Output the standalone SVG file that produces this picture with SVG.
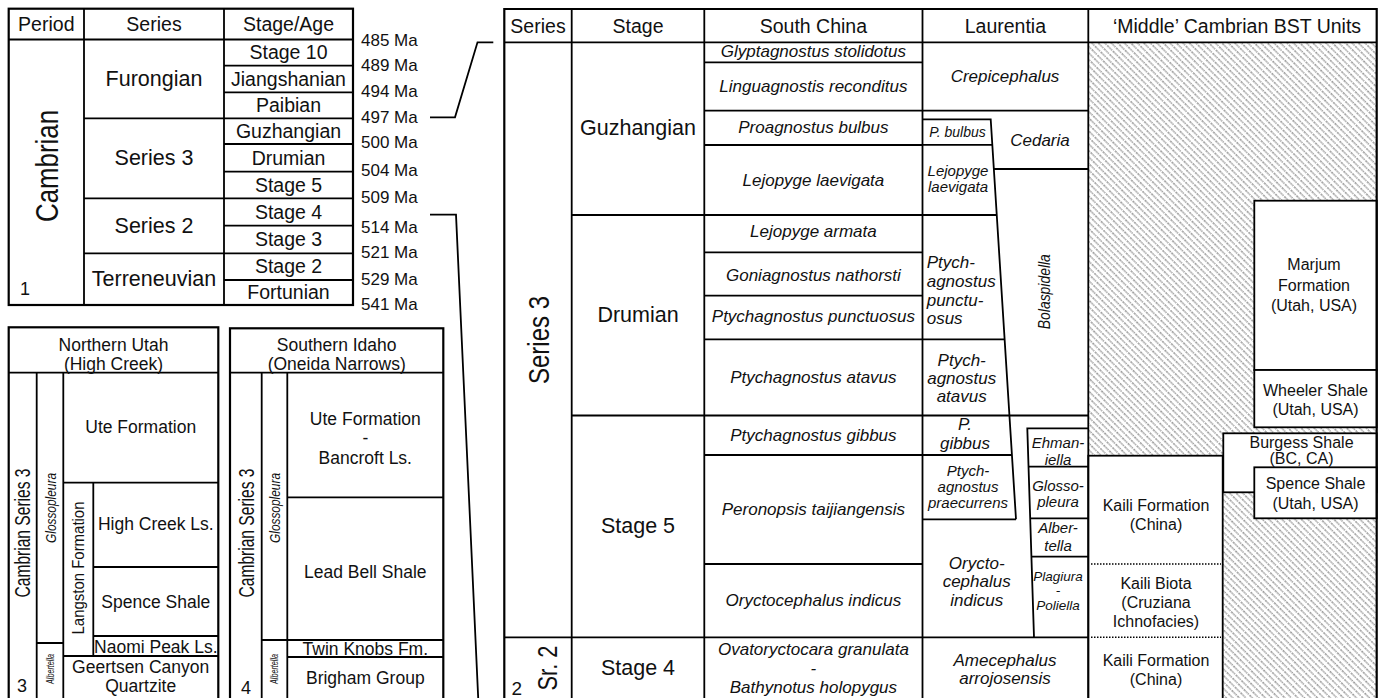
<svg xmlns="http://www.w3.org/2000/svg" width="1385" height="698" viewBox="0 0 1385 698">
<defs>
<pattern id="hatch" patternUnits="userSpaceOnUse" width="4.6" height="8" patternTransform="rotate(-45)">
<line x1="1" y1="0" x2="1" y2="8" stroke="#666" stroke-width="1" stroke-dasharray="1.4 0.9"/>
</pattern>
</defs>
<style>
.ln{stroke:#000;stroke-width:1.8;fill:none}
.ob{stroke:#000;stroke-width:2.2;fill:none}
.bx{stroke:#000;stroke-width:1.8;fill:#fff}
.dot{stroke:#000;stroke-width:1.5;stroke-dasharray:1.5 1.5;fill:none}
text{font-family:"Liberation Sans",Arial,sans-serif;fill:#111;text-anchor:middle;dominant-baseline:central}
.i{font-style:italic}
.h{font-size:19.5px}
.st{font-size:19.5px}
.se{font-size:21.5px}
.ma{font-size:17px;text-anchor:start}
.sc{font-size:17px;font-style:italic}
.la{font-size:17px;font-style:italic}
.bs{font-size:16px}
.lt{font-size:17.5px}
</style>
<rect width="1385" height="698" fill="#fff"/>

<!-- Top-left time scale -->
<g id="timescale">
<rect x="8.7" y="8.7" width="344.3" height="296.3" class="bx" style="stroke-width:2.2"/>
<path class="ln" d="M8.7 39.5H353 M84 8.7V305 M224 8.7V305 M84 118.3H353 M84 198.3H353 M84 253.3H353 M224 65.7H353 M224 92.3H353 M224 144H353 M224 171.7H353 M224 225.7H353 M224 280H353"/>
<text class="h" x="46.3" y="24">Period</text>
<text class="h" x="154" y="24">Series</text>
<text class="h" x="288.5" y="24">Stage/Age</text>
<text x="47" y="166" style="font-size:31px" transform="rotate(-90 47 166)" textLength="112" lengthAdjust="spacingAndGlyphs">Cambrian</text>
<text x="25" y="289" style="font-size:18px">1</text>
<text class="se" x="154" y="79">Furongian</text>
<text class="se" x="154" y="158.3">Series 3</text>
<text class="se" x="154" y="226">Series 2</text>
<text class="se" x="154" y="279.3">Terreneuvian</text>
<text class="st" x="288.5" y="52">Stage 10</text>
<text class="st" x="288.5" y="78.5">Jiangshanian</text>
<text class="st" x="288.5" y="105">Paibian</text>
<text class="st" x="288.5" y="131">Guzhangian</text>
<text class="st" x="288.5" y="157.5">Drumian</text>
<text class="st" x="288.5" y="184.5">Stage 5</text>
<text class="st" x="288.5" y="211.5">Stage 4</text>
<text class="st" x="288.5" y="239">Stage 3</text>
<text class="st" x="288.5" y="266">Stage 2</text>
<text class="st" x="288.5" y="292">Fortunian</text>
<text class="ma" x="361" y="40.3">485 Ma</text>
<text class="ma" x="361" y="65">489 Ma</text>
<text class="ma" x="361" y="91.7">494 Ma</text>
<text class="ma" x="361" y="117.3">497 Ma</text>
<text class="ma" x="361" y="142.7">500 Ma</text>
<text class="ma" x="361" y="170.3">504 Ma</text>
<text class="ma" x="361" y="197.3">509 Ma</text>
<text class="ma" x="361" y="227.7">514 Ma</text>
<text class="ma" x="361" y="252.7">521 Ma</text>
<text class="ma" x="361" y="279.3">529 Ma</text>
<text class="ma" x="361" y="304.3">541 Ma</text>
</g>

<!-- Northern Utah -->
<g id="northern-utah">
<rect x="8.7" y="327.3" width="209.6" height="380" class="bx" style="stroke-width:2.2"/>
<path class="ln" d="M8.7 372.7H218.3 M36.7 372.7V700 M63.3 372.7V700 M63.3 482.7H218.3 M93.3 482.7V656 M93.3 567H218.3 M93.3 636H218.3 M63.3 656H218.3 M36.7 643H63.3"/>
<text class="lt" x="113.5" y="345">Northern Utah</text>
<text class="lt" x="113.5" y="364">(High Creek)</text>
<text class="lt" x="140.7" y="426.5">Ute Formation</text>
<text class="lt" x="155.8" y="524">High Creek Ls.</text>
<text class="lt" x="155.8" y="601.5">Spence Shale</text>
<text class="lt" x="155.8" y="646.5">Naomi Peak Ls.</text>
<text class="lt" x="140.7" y="667">Geertsen Canyon</text>
<text class="lt" x="140.7" y="686">Quartzite</text>
<text x="22.5" y="533" style="font-size:22px" transform="rotate(-90 22.5 533)" textLength="129" lengthAdjust="spacingAndGlyphs">Cambrian Series 3</text>
<text class="i" x="50" y="508" style="font-size:15px" transform="rotate(-90 50 508)" textLength="70" lengthAdjust="spacingAndGlyphs">Glossopleura</text>
<text x="78.3" y="568" style="font-size:17px" transform="rotate(-90 78.3 568)" textLength="133" lengthAdjust="spacingAndGlyphs">Langston Formation</text>
<text class="i" x="50" y="669" style="font-size:10px" transform="rotate(-90 50 669)" textLength="30" lengthAdjust="spacingAndGlyphs">Albertella</text>
<text x="22" y="686" style="font-size:18px">3</text>
</g>

<!-- Southern Idaho -->
<g id="southern-idaho">
<rect x="230" y="328.3" width="213.3" height="380" class="bx" style="stroke-width:2.2"/>
<path class="ln" d="M230 372.7H443.3 M261.7 372.7V700 M287.3 372.7V700 M287.3 497.3H443.3 M261.7 640H443.3 M287.3 657H443.3"/>
<text class="lt" x="336.7" y="345">Southern Idaho</text>
<text class="lt" x="336.7" y="364">(Oneida Narrows)</text>
<text class="lt" x="365.3" y="419">Ute Formation</text>
<text class="lt" x="365.3" y="438">-</text>
<text class="lt" x="365.3" y="458">Bancroft Ls.</text>
<text class="lt" x="365.3" y="572">Lead Bell Shale</text>
<text class="lt" x="365.3" y="648.5">Twin Knobs Fm.</text>
<text class="lt" x="365.3" y="677.5">Brigham Group</text>
<text x="246.5" y="533" style="font-size:22px" transform="rotate(-90 246.5 533)" textLength="129" lengthAdjust="spacingAndGlyphs">Cambrian Series 3</text>
<text class="i" x="274.5" y="508" style="font-size:15px" transform="rotate(-90 274.5 508)" textLength="70" lengthAdjust="spacingAndGlyphs">Glossopleura</text>
<text class="i" x="274.5" y="669" style="font-size:10px" transform="rotate(-90 274.5 669)" textLength="30" lengthAdjust="spacingAndGlyphs">Albertella</text>
<text x="246" y="688" style="font-size:18px">4</text>
</g>

<!-- Connectors (zoom brackets) -->
<g id="connectors" class="ln">
<path d="M430 117.3H455L477.5 42.3H493.3"/>
<path d="M430 214.7H456L478.3 700"/>
</g>

<!-- BST units column -->
<g id="bst-units">
<rect x="1088.3" y="42.3" width="288.4" height="660" fill="url(#hatch)"/>
<rect class="bx" x="1254.3" y="200.7" width="122.4" height="169.3"/>
<rect class="bx" x="1254.3" y="370" width="122.4" height="57.3"/>
<rect class="bx" x="1223.3" y="433.3" width="153.4" height="59"/>
<rect class="bx" x="1254.3" y="467.3" width="122.4" height="51"/>
<rect class="bx" x="1088.3" y="455.7" width="134.4" height="260"/>
<path class="dot" d="M1091 564H1221 M1091 637.3H1221"/>
<text class="bs" x="1314" y="264">Marjum</text>
<text class="bs" x="1314" y="285">Formation</text>
<text class="bs" x="1314" y="305">(Utah, USA)</text>
<text class="bs" x="1315.5" y="390">Wheeler Shale</text>
<text class="bs" x="1315.5" y="409.3">(Utah, USA)</text>
<text class="bs" x="1301.5" y="442.7">Burgess Shale</text>
<text class="bs" x="1301.5" y="458.3">(BC, CA)</text>
<text class="bs" x="1315.5" y="483.3">Spence Shale</text>
<text class="bs" x="1315.5" y="503.3">(Utah, USA)</text>
<text class="bs" x="1156" y="505">Kaili Formation</text>
<text class="bs" x="1156" y="524">(China)</text>
<text class="bs" x="1156" y="583.3">Kaili Biota</text>
<text class="bs" x="1156" y="602.3">(Cruziana</text>
<text class="bs" x="1156" y="621">Ichnofacies)</text>
<text class="bs" x="1156" y="660">Kaili Formation</text>
<text class="bs" x="1156" y="679">(China)</text>
</g>

<!-- Right correlation table -->
<g id="correlation-table">
<path class="ln" d="M504.3 42.3H1376.7 M571.7 9V700 M704.3 9V700 M922.5 9V700 M1088.3 9V700
M571.7 215H704.3 M571.7 415.5H704.3 M504.3 637.3H1088.3
M704.3 62.3H922.5 M704.3 110.7H922.5 M704.3 145H922.5 M704.3 215H922.5 M704.3 252.3H922.5 M704.3 295.7H922.5 M704.3 339.3H922.5 M704.3 415.5H922.5 M704.3 455H922.5 M704.3 564H922.5
M922.5 110.7H1088.3 M922.5 119.3H990.7 L1016 519.3 M922.5 144.8H992.3 M993.8 169H1088.3 M922.5 215H996.7 M922.5 339.3H1004.6 M922.5 415.5H1088.3 M922.5 455H1011.9 M922.5 519.3H1016
M1088.3 428.3H1027.3 L1034 637.3 M1028.5 466.7H1088.3 M1030.2 518.3H1088.3 M1031.4 556.7H1088.3"/>
<path class="ob" d="M504.3 700V9H1376.7V700"/>
<text class="h" x="538" y="25.5">Series</text>
<text class="h" x="638" y="25.5">Stage</text>
<text class="h" x="813.4" y="25.5">South China</text>
<text class="h" x="1005.4" y="25.5">Laurentia</text>
<text class="h" x="1237" y="25.5">‘Middle’ Cambrian BST Units</text>
<text x="538.3" y="340" style="font-size:30px" transform="rotate(-90 538.3 340)" textLength="88" lengthAdjust="spacingAndGlyphs">Series 3</text>
<text x="547.5" y="668" style="font-size:27px" transform="rotate(-90 547.5 668)" textLength="45" lengthAdjust="spacingAndGlyphs">Sr. 2</text>
<text x="516.7" y="688" style="font-size:19px">2</text>
<text class="se" x="638" y="127.7">Guzhangian</text>
<text class="se" x="638" y="315">Drumian</text>
<text class="se" x="638" y="526">Stage 5</text>
<text class="se" x="638" y="668.3">Stage 4</text>
<text class="sc" x="813.4" y="51.7">Glyptagnostus stolidotus</text>
<text class="sc" x="813.4" y="86.7">Linguagnostis reconditus</text>
<text class="sc" x="813.4" y="127.7">Proagnostus bulbus</text>
<text class="sc" x="813.4" y="180">Lejopyge laevigata</text>
<text class="sc" x="813.4" y="231.7">Lejopyge armata</text>
<text class="sc" x="813.4" y="275">Goniagnostus nathorsti</text>
<text class="sc" x="813.4" y="316.7">Ptychagnostus punctuosus</text>
<text class="sc" x="813.4" y="377.3">Ptychagnostus atavus</text>
<text class="sc" x="813.4" y="435">Ptychagnostus gibbus</text>
<text class="sc" x="813.4" y="509.3">Peronopsis taijiangensis</text>
<text class="sc" x="813.4" y="600">Oryctocephalus indicus</text>
<text class="sc" x="813.4" y="649.5">Ovatoryctocara granulata</text>
<text class="sc" x="813.4" y="668.3">-</text>
<text class="sc" x="813.4" y="687.5">Bathynotus holopygus</text>
<text class="la" x="1005" y="76.7">Crepicephalus</text>
<text class="i" x="957.5" y="131.7" style="font-size:14px">P.  bulbus</text>
<text class="la" x="1040" y="140">Cedaria</text>
<text class="i" x="958" y="170" style="font-size:15px">Lejopyge</text>
<text class="i" x="958" y="186" style="font-size:15px">laevigata</text>
<text class="la" x="926.7" y="262.7" style="text-anchor:start">Ptych-</text>
<text class="la" x="926.7" y="281" style="text-anchor:start">agnostus</text>
<text class="la" x="926.7" y="300" style="text-anchor:start">punctu-</text>
<text class="la" x="926.7" y="318.5" style="text-anchor:start">osus</text>
<text class="la" x="961.7" y="360">Ptych-</text>
<text class="la" x="961.7" y="378.3">agnostus</text>
<text class="la" x="961.7" y="396.5">atavus</text>
<text class="la" x="965" y="424">P.</text>
<text class="la" x="965" y="443.3">gibbus</text>
<text class="i" x="968" y="470" style="font-size:15px">Ptych-</text>
<text class="i" x="968" y="486" style="font-size:15px">agnostus</text>
<text class="i" x="968" y="502" style="font-size:15px">praecurrens</text>
<text class="la" x="976.7" y="563.3">Orycto-</text>
<text class="la" x="976.7" y="581.7">cephalus</text>
<text class="la" x="976.7" y="600">indicus</text>
<text class="i" x="1058" y="442.7" style="font-size:15px">Ehman-</text>
<text class="i" x="1058" y="459.5" style="font-size:15px">iella</text>
<text class="i" x="1058" y="485" style="font-size:15px">Glosso-</text>
<text class="i" x="1058" y="501.7" style="font-size:15px">pleura</text>
<text class="i" x="1058" y="527.7" style="font-size:15px">Alber-</text>
<text class="i" x="1058" y="545" style="font-size:15px">tella</text>
<text class="i" x="1058" y="576" style="font-size:13.5px">Plagiura</text>
<text class="i" x="1058" y="590.7" style="font-size:13.5px">-</text>
<text class="i" x="1058" y="605" style="font-size:13.5px">Poliella</text>
<text class="la" x="1005" y="660">Amecephalus</text>
<text class="la" x="1005" y="678.5">arrojosensis</text>
<text class="i" x="1045" y="291.7" style="font-size:17px" transform="rotate(-90 1045 291.7)" textLength="75" lengthAdjust="spacingAndGlyphs">Bolaspidella</text>
</g>
</svg>
